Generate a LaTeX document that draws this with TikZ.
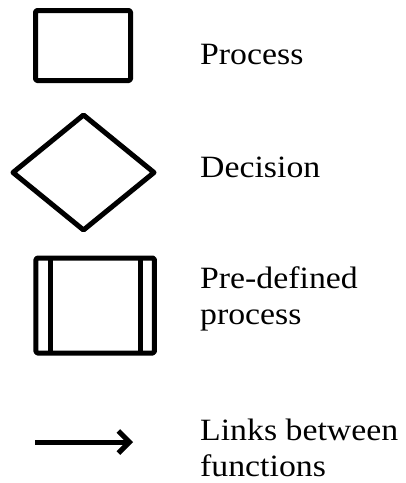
\documentclass[tikz,border=0pt]{standalone}
\usepackage{fontspec}
\setmainfont{Liberation Serif}[FakeStretch=1.09]
\usetikzlibrary{shapes.geometric,arrows.meta}
\begin{document}
\begin{tikzpicture}[x=1pt,y=-1pt,
  symbol/.style={draw=black,line width=5pt,inner sep=0pt,outer sep=0pt,line join=round},
  label/.style={anchor=base west,inner sep=0pt,align=left,
    font=\fontsize{31}{36}\selectfont},
  link/.style={line width=5pt,-{Straight Barb[length=11pt,width=22pt,line width=5pt]}}]
\useasboundingbox[fill=white] (0,0) rectangle (406,483);

% process box
\node[symbol,rectangle,rounded corners=1.5pt,minimum width=95pt,minimum height=70pt]
  (proc) at (83,45.5) {};
\node[label] (proctxt) at (200,64) {Process};

% decision diamond
\node[symbol,diamond,minimum width=141pt,minimum height=115pt]
  (dec) at (83.5,172.5) {};
\node[label] (dectxt) at (200,177) {Decision};

% pre-defined process: box with two inner bars
\node[symbol,rectangle,rounded corners=1.5pt,minimum width=118.5pt,minimum height=95pt]
  (pre) at (95.2,305.5) {};
\draw[line width=5pt] ([xshift=15pt]pre.north west) -- ([xshift=15pt]pre.south west);
\draw[line width=5pt] ([xshift=-13.7pt]pre.north east) -- ([xshift=-13.7pt]pre.south east);
% two-line labels: the base anchor sits on the last line
\node[label] (pretxt) at (200,324) {Pre-defined\\process};

% link arrow with a soft shadow
\coordinate (a0) at (35,442);
\coordinate (a1) at (133,442);
\draw[link,draw=black!22,shift={(1.5,2.5)}] (a0) -- (a1);
\draw[link] (a0) -- (a1);
\node[label] (linktxt) at (200,476) {Links between\\functions};
\end{tikzpicture}
\end{document}
